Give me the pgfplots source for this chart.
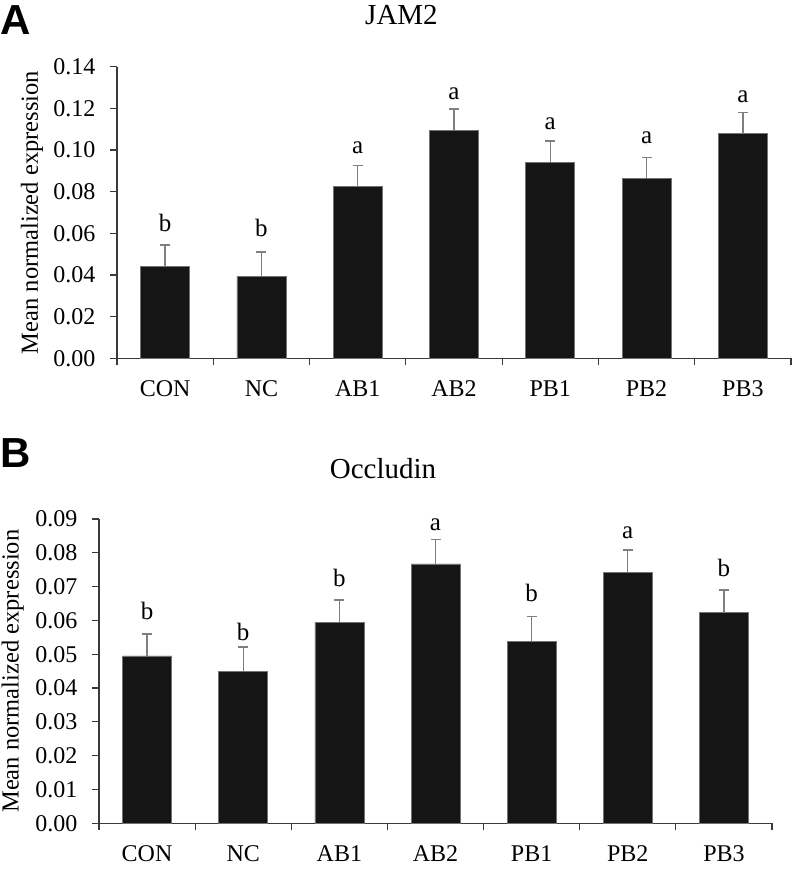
\documentclass[border=0pt]{standalone}
\usepackage{fontspec}
\setmainfont{Liberation Serif}
\newfontfamily\sansbold{Liberation Sans}
\usepackage{pgfplots}
\pgfplotsset{compat=1.18}
\definecolor{barc}{HTML}{151515}
\definecolor{errc}{HTML}{7F7F7F}
\definecolor{axc}{HTML}{3A3A3A}

\pgfplotsset{
  panel/.style={
    scale only axis,
    axis lines*=left,
    axis line style={axc, line width=1.2pt},
    xmin=-0.5, xmax=6.5, ymin=0,
    enlargelimits=false, clip=false,
    scaled y ticks=false,
    xtick={-0.5,0.5,1.5,2.5,3.5,4.5,5.5,6.5},
    xticklabels={,,,,,,,},
    extra x ticks={0,1,2,3,4,5,6},
    extra x tick labels={CON,NC,AB1,AB2,PB1,PB2,PB3},
    extra x tick style={major tick length=0pt, tick style={draw=none},
      xticklabel style={yshift=-19pt}},
    tick align=outside,
    major tick length=7pt,
    tick style={axc, line width=1.2pt},
    tick label style={font=\fontsize{24}{28}\selectfont},
    /pgf/number format/assume math mode=true,
    yticklabel style={/pgf/number format/fixed, /pgf/number format/fixed zerofill, /pgf/number format/precision=2},
    ylabel={Mean normalized expression},
    ylabel style={font=\fontsize{24.5}{28}\selectfont, anchor=center},
    title style={font=\fontsize{29}{32}\selectfont, anchor=base},
  },
  barst/.style={ybar, bar width=49pt, fill=barc, draw=black!55, line width=0.6pt,
    error bars/.cd, y dir=plus, y explicit,
    error bar style={errc, line width=1.3pt},
    error mark options={errc, rotate=90, mark size=5pt, line width=1.3pt}},
  labst/.style={only marks, mark=*, mark size=0.01pt, mark options={draw=none, fill=none},
    nodes near coords, point meta=explicit symbolic,
    nodes near coords style={anchor=base, inner sep=0pt, text=black, font=\fontsize{25}{28}\selectfont}},
}

\begin{document}
\begin{tikzpicture}[x=1pt,y=1pt]
\path[use as bounding box] (0,0) rectangle (792,869);
\node[anchor=base west, inner sep=0pt, font=\sansbold\bfseries\fontsize{42}{44}\selectfont] at (0,834) {A};
\node[anchor=base west, inner sep=0pt, font=\sansbold\bfseries\fontsize{42}{44}\selectfont] at (0,401) {B};

% Top panel: JAM2
\begin{axis}[panel,
  at={(117pt,510.7pt)}, anchor=south west,
  width=674pt, height=291.6pt,
  ymax=0.14,
  ytick={0,0.02,0.04,0.06,0.08,0.10,0.12,0.14},
  yticklabel style={xshift=-11pt},
  ylabel style={at={(axis description cs:-0.126,0.5)}},
  title={JAM2},
  title style={at={(axis description cs:0.5,1)}, yshift=36pt, xshift=-52.5pt},
]
\addplot[barst] table[x=x, y=y, y error=e] {
x y e
0 0.0440 0.0104
1 0.0395 0.0115
2 0.0824 0.0101
3 0.1095 0.0102
4 0.0941 0.0102
5 0.0864 0.0101
6 0.1078 0.0103
};
\addplot[labst] table[x=x, y=y, meta=l] {
x y l
0 0.0608 b
1 0.0584 b
2 0.0984 a
3 0.1243 a
4 0.1099 a
5 0.1029 a
6 0.1227 a
};
\end{axis}

% Bottom panel: Occludin
\begin{axis}[panel,
  at={(99pt,45.7pt)}, anchor=south west,
  width=673pt, height=304.3pt,
  ymax=0.09,
  ytick={0,0.01,0.02,0.03,0.04,0.05,0.06,0.07,0.08,0.09},
  yticklabel style={xshift=-11pt},
  ylabel style={at={(axis description cs:-0.128,0.5)}},
  title={Occludin},
  title style={at={(axis description cs:0.5,1)}, yshift=35pt, xshift=-52.5pt},
]
\addplot[barst] table[x=x, y=y, y error=e] {
x y e
0 0.0495 0.0065
1 0.0450 0.0071
2 0.0595 0.0065
3 0.0767 0.0073
4 0.0537 0.0074
5 0.0743 0.0065
6 0.0623 0.0067
};
\addplot[labst] table[x=x, y=y, meta=l] {
x y l
0 0.0603 b
1 0.0542 b
2 0.0700 b
3 0.0865 a
4 0.0655 b
5 0.0843 a
6 0.0731 b
};
\end{axis}
\end{tikzpicture}
\end{document}
